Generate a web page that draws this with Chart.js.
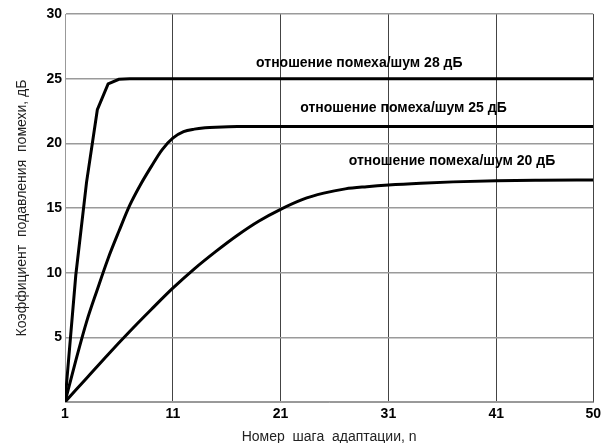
<!DOCTYPE html>
<html>
<head>
<meta charset="utf-8">
<script src="https://cdn.jsdelivr.net/npm/chart.js@4/dist/chart.umd.min.js"></script>
<style>
  html, body { margin: 0; padding: 0; background: #fff; }
  #wrap { position: relative; width: 605px; height: 443px; }
</style>
</head>
<body>
<div id="wrap"><canvas id="chart"></canvas></div>
<script>
// adaptation step n and suppression (dB)
const steps28 = [1, 2, 3, 4, 5, 6, 7, 50];
const snr28 = [0, 9.8, 17.0, 22.6, 24.6, 24.95, 25, 25];

const steps25 = [1, 2, 3, 4, 5, 6, 7, 8, 9, 10, 11, 12, 13, 14, 15, 17, 50];
const snr25 = [0, 3.2, 6.2, 8.7, 11.1, 13.2, 15.2, 16.8, 18.2, 19.5, 20.4, 20.9, 21.1, 21.2, 21.25, 21.3, 21.3];

const steps20 = [1, 3, 5, 7, 9, 11, 13, 15, 17, 19, 21, 23, 25, 27, 29, 31, 34, 37, 41, 45, 50];
const snr20 = [0, 1.84, 3.68, 5.45, 7.15, 8.8, 10.3, 11.65, 12.9, 14.0, 14.9, 15.65, 16.15, 16.48, 16.65, 16.78, 16.92, 17.02, 17.1, 17.14, 17.17];

const xTicks = [1, 11, 21, 31, 41, 50];
const yTicks = [0, 5, 10, 15, 20, 25, 30];

const curveLabels = ["отношение помеха/шум 28 дБ", "отношение помеха/шум 25 дБ", "отношение помеха/шум 20 дБ"];
// label centres, in data units (n, dB)
const labelAt = [[28.3, 26.2], [32.4, 22.7], [36.9, 18.6]];

const xTitle = "Номер  шага  адаптации, n";
const yTitle = "Коэффициент  подавления  помехи, дБ";

const toPoints = (xs, ys) => xs.map((x, i) => ({x: x, y: ys[i]}));

const textPlugin = {
  id: "texts",
  afterDraw(chart) {
    const ctx = chart.ctx;
    const xs = chart.scales.x, ys = chart.scales.y;
    const area = chart.chartArea;
    ctx.save();
    ctx.fillStyle = "#000";
    ctx.textAlign = "center";
    ctx.textBaseline = "middle";
    ctx.font = "bold 14px 'Liberation Sans', Arial, sans-serif";
    curveLabels.forEach((t, i) => {
      ctx.fillText(t, xs.getPixelForValue(labelAt[i][0]), ys.getPixelForValue(labelAt[i][1]));
    });
    ctx.fillStyle = "#222";
    ctx.font = "14px 'Liberation Sans', Arial, sans-serif";
    ctx.fillText(xTitle, (area.left + area.right) / 2, 437);
    ctx.translate(22, (area.top + area.bottom) / 2);
    ctx.rotate(-Math.PI / 2);
    ctx.fillText(yTitle, 0, 0);
    ctx.restore();
  }
};

const lineStyle = {
  borderColor: "#000",
  borderWidth: 3,
  pointRadius: 0,
  fill: false
};

new Chart(document.getElementById("chart").getContext("2d"), {
  type: "line",
  data: {
    datasets: [
      Object.assign({label: curveLabels[0], data: toPoints(steps28, snr28), tension: 0}, lineStyle),
      Object.assign({label: curveLabels[1], data: toPoints(steps25, snr25), cubicInterpolationMode: "monotone"}, lineStyle),
      Object.assign({label: curveLabels[2], data: toPoints(steps20, snr20), cubicInterpolationMode: "monotone"}, lineStyle)
    ]
  },
  options: {
    responsive: true,
    maintainAspectRatio: false,
    animation: false,
    layout: {padding: {top: 14, right: 11, left: 0, bottom: 0}},
    plugins: {legend: {display: false}, tooltip: {enabled: false}},
    scales: {
      x: {
        type: "linear",
        min: 1,
        max: 50,
        afterBuildTicks: (s) => { s.ticks = xTicks.map(v => ({value: v})); },
        afterFit: (s) => { s.height = 41; },
        grid: {color: "#444", lineWidth: 1, drawTicks: false},
        border: {color: "#999", width: 1},
        ticks: {
          color: "#000",
          padding: 4,
          maxRotation: 0,
          autoSkip: false,
          font: {family: "'Liberation Sans', Arial, sans-serif", size: 14, weight: "bold"}
        }
      },
      y: {
        min: 0,
        max: 30,
        afterBuildTicks: (s) => { s.ticks = yTicks.map(v => ({value: v})); },
        afterFit: (s) => { s.width = 65; },
        grid: {color: "#9a9a9a", lineWidth: 1.5, drawTicks: false},
        border: {color: "#999", width: 1},
        ticks: {
          color: "#000",
          padding: 3,
          callback: (v) => v === 0 ? "" : v,
          font: {family: "'Liberation Sans', Arial, sans-serif", size: 14, weight: "bold"}
        }
      }
    }
  },
  plugins: [textPlugin]
});
</script>
</body>
</html>
